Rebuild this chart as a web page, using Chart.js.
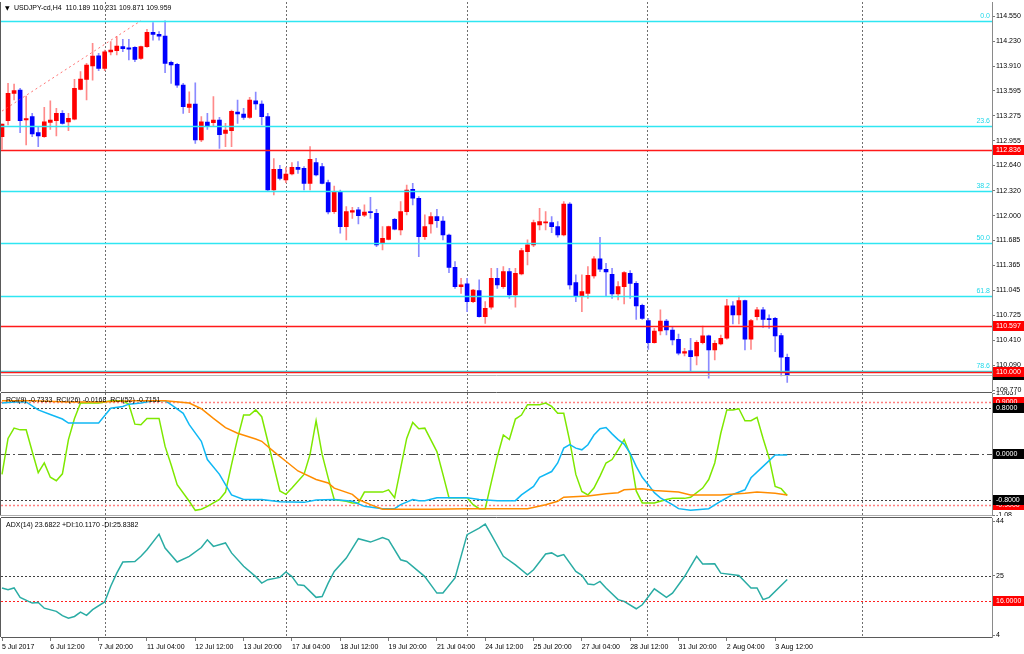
<!DOCTYPE html>
<html>
<head>
<meta charset="utf-8">
<script src="https://cdn.jsdelivr.net/npm/chart.js@4.4.1/dist/chart.umd.min.js"></script>
<style>
html, body { margin: 0; padding: 0; background: #fff; }
#wrap { position: relative; width: 1024px; height: 654px; overflow: hidden; background: #fff; }
canvas { position: absolute; left: 0; }
</style>
</head>
<body>
<div id="wrap">
  <canvas id="main" width="1024" height="392" style="top:0px"></canvas>
  <canvas id="rci" width="1024" height="124" style="top:392px"></canvas>
  <canvas id="adx" width="1024" height="138" style="top:516px"></canvas>
</div>
<script>
// USDJPY H4 candles, 5 Jul 2017 -> 3 Aug 2017 (one entry per bar)
var candleOpen = [113.009,113.213,113.562,113.605,113.222,113.264,113.060,113.009,113.192,113.213,
  113.307,113.196,113.234,113.613,113.741,113.911,114.043,113.881,114.090,114.107,
  114.158,114.145,114.150,114.009,114.158,114.341,114.316,114.294,113.958,113.932,
  113.668,113.383,113.426,112.966,113.196,113.188,113.222,113.051,113.085,113.324,
  113.298,113.256,113.468,113.426,113.264,112.328,112.592,112.455,112.532,112.617,
  112.604,112.413,112.677,112.626,112.421,112.051,112.307,111.860,112.043,112.073,
  112.005,112.047,112.030,111.647,111.698,111.954,111.817,112.051,112.337,112.222,
  111.732,111.894,111.988,111.932,111.753,111.340,111.094,111.128,110.902,111.043,
  110.710,110.830,111.200,111.094,111.285,110.987,111.255,111.541,111.626,111.881,
  111.907,111.911,111.860,111.753,112.149,111.145,110.974,111.008,111.230,111.447,
  111.315,111.251,111.000,111.094,111.264,111.136,110.855,110.659,110.378,110.527,
  110.655,110.540,110.421,110.242,110.276,110.208,110.378,110.464,110.285,110.361,
  110.434,110.847,110.732,110.915,110.421,110.710,110.796,110.681,110.689,110.468,
  110.189];
var candleHigh = [113.170,113.690,113.681,113.626,113.528,113.307,113.136,113.383,113.468,113.371,
  113.341,113.307,113.741,113.839,113.945,114.201,114.073,114.116,114.222,114.286,
  114.252,114.252,114.158,114.167,114.379,114.465,114.350,114.490,113.975,113.945,
  113.690,113.583,113.698,113.264,113.307,113.520,113.256,113.179,113.349,113.477,
  113.371,113.511,113.579,113.468,113.307,112.728,112.643,112.613,112.677,112.690,
  112.626,112.881,112.732,112.668,112.455,112.379,112.328,112.115,112.107,112.107,
  112.137,112.234,112.081,111.860,111.868,111.966,112.179,112.392,112.413,112.243,
  112.009,112.039,112.081,111.988,111.766,111.413,111.200,111.200,111.060,111.179,
  110.902,111.328,111.328,111.349,111.328,111.328,111.583,111.690,111.945,112.094,
  112.051,111.988,111.924,112.179,112.166,111.243,111.243,111.349,111.477,111.724,
  111.392,111.328,111.157,111.285,111.298,111.157,110.872,110.689,110.561,110.796,
  110.676,110.574,110.489,110.306,110.434,110.404,110.591,110.476,110.404,110.476,
  110.932,110.902,110.974,110.923,110.676,110.830,110.830,110.732,110.702,110.498,
  110.231];
var candleLow = [112.850,113.158,113.477,113.060,112.902,113.009,112.881,113.000,113.102,113.017,
  113.170,113.085,113.222,113.605,113.477,113.732,113.852,113.852,114.052,114.052,
  114.094,113.988,113.966,113.996,114.150,114.243,114.243,113.826,113.690,113.639,
  113.307,113.315,112.924,112.945,113.102,113.136,112.860,112.881,112.881,113.179,
  113.230,113.243,113.358,113.158,112.306,112.264,112.455,112.421,112.519,112.541,
  112.328,112.328,112.507,112.404,112.021,112.030,111.775,111.690,111.966,111.894,
  111.988,111.966,111.604,111.562,111.690,111.817,111.753,112.009,112.137,111.477,
  111.698,111.775,111.851,111.690,111.272,111.072,111.008,110.774,110.889,110.702,
  110.625,110.804,111.072,111.072,110.944,110.830,111.243,111.370,111.604,111.817,
  111.817,111.783,111.724,111.741,111.060,110.902,110.774,110.944,111.200,111.285,
  110.979,110.944,110.923,110.872,110.944,110.676,110.676,110.293,110.370,110.476,
  110.476,110.349,110.221,110.208,110.021,110.093,110.361,109.923,110.157,110.349,
  110.421,110.617,110.617,110.285,110.293,110.668,110.574,110.561,110.263,109.953,
  109.871];
var candleClose = [113.170,113.562,113.596,113.213,113.239,113.043,113.017,113.200,113.222,113.307,
  113.179,113.243,113.626,113.745,113.924,114.039,113.881,114.094,114.116,114.167,
  114.133,114.128,113.996,114.158,114.341,114.316,114.294,113.945,113.924,113.668,
  113.392,113.426,112.966,113.200,113.145,113.222,113.034,113.094,113.332,113.298,
  113.256,113.477,113.426,113.264,112.328,112.592,112.477,112.532,112.617,112.592,
  112.413,112.719,112.519,112.413,112.047,112.307,111.860,112.051,112.064,112.000,
  112.047,112.039,111.626,111.711,111.860,111.826,112.051,112.328,112.222,111.732,
  111.860,111.988,111.937,111.753,111.340,111.094,111.115,110.902,111.051,110.710,
  110.817,111.200,111.115,111.285,110.987,111.264,111.553,111.626,111.911,111.924,
  111.915,111.860,111.753,112.149,111.115,110.974,111.030,111.238,111.447,111.315,
  111.281,111.000,111.094,111.272,111.136,110.847,110.689,110.378,110.527,110.655,
  110.540,110.412,110.242,110.264,110.200,110.383,110.464,110.285,110.370,110.434,
  110.847,110.732,110.915,110.421,110.659,110.796,110.676,110.672,110.463,110.191,
  109.959];

// time axis: one label every 8 bars
var tickIdx = [0, 8, 16, 24, 32, 40, 48, 56, 64, 72, 80, 88, 96, 104, 112, 120, 128];
var tickLabels = ['5 Jul 2017', '6 Jul 12:00', '7 Jul 20:00', '11 Jul 04:00', '12 Jul 12:00',
  '13 Jul 20:00', '17 Jul 04:00', '18 Jul 12:00', '19 Jul 20:00', '21 Jul 04:00', '24 Jul 12:00',
  '25 Jul 20:00', '27 Jul 04:00', '28 Jul 12:00', '31 Jul 20:00', '2 Aug 04:00', '3 Aug 12:00'];
var gridIdx = [17, 47, 77, 106.75, 142.4];

var priceTicks = [114.550, 114.230, 113.910, 113.595, 113.275, 112.955, 112.640, 112.320,
  112.000, 111.685, 111.365, 111.045, 110.725, 110.410, 110.090, 109.770];

// objects on the price chart
var fibNames = ['0.0', '23.6', '38.2', '50.0', '61.8', '78.6'];
var fibPrices = [114.490, 113.147, 112.316, 111.645, 110.974, 110.018];
var levelPrices = [112.836, 110.597, 110.000];
var bidPrice = 109.959;
var trendIdx = [0, 23];
var trendPrices = [113.336, 114.490];

// RCI(9), RCI(26), RCI(52)
var rci9Idx = [0,1,2,3,4,5,6,7,8,9,10,11,12,13,14,16,17,18,20,21,22,23,24,26,27,28,29,31,32,33,34,36,37,38,39,40,41,42,43,44,
  46,47,48,50,51,52,53,54,55,57,58,59,60,63,64,65,66,67,68,69,70,72,73,74,77,78,79,80,81,82,83,84,85,86,87,89,90,91,92,93,
  94,95,96,97,98,99,100,101,102,103,104,105,106,108,110,111,113,114,116,117,118,119,120,121,122,123,124,125,126,127,128,129,130];
var rci9Val = [-0.36,0.27,0.45,0.42,0.42,0.04,-0.33,-0.16,-0.41,-0.47,-0.35,0.25,0.62,0.89,0.89,0.89,0.91,0.93,0.93,0.87,0.52,0.51,0.62,0.62,0.13,-0.19,-0.54,-0.83,-0.99,-0.97,-0.92,-0.80,-0.67,-0.19,0.27,0.68,0.68,0.77,0.65,0.22,
  -0.65,-0.71,-0.60,-0.36,-0.01,0.58,-0.01,-0.42,-0.80,-0.83,-0.86,-0.86,-0.67,-0.67,-0.63,-0.77,-0.25,0.27,0.55,0.44,0.45,0.04,-0.36,-0.77,-0.77,-0.89,-0.96,-0.96,-0.50,-0.05,0.33,0.25,0.61,0.68,0.86,0.86,0.89,0.83,0.71,0.71,
  0.22,-0.36,-0.66,-0.72,-0.60,-0.39,-0.16,-0.10,0.07,0.25,-0.01,-0.65,-0.86,-0.86,-0.80,-0.78,-0.78,-0.76,-0.60,-0.45,-0.16,0.36,0.77,0.77,0.79,0.58,0.58,0.64,0.27,-0.07,-0.57,-0.61,-0.73];
var rci26Idx = [0,2,4,6,8,10,11,16,18,20,21,23,25,27,28,30,31,33,34,36,37,38,40,43,46,50,52,55,58,60,63,65,66,68,69,70,72,77,79,82,
  85,86,88,89,91,92,93,94,95,96,97,98,99,100,101,102,103,104,105,106,107,108,109,111,112,114,117,119,121,123,124,126,128,130];
var rci26Val = [0.89,0.91,0.91,0.77,0.69,0.61,0.54,0.54,0.80,0.83,0.87,0.89,0.93,0.93,0.86,0.71,0.51,0.22,-0.10,-0.36,-0.54,-0.72,-0.80,-0.80,-0.84,-0.85,-0.81,-0.80,-0.83,-0.92,-0.96,-0.96,-0.89,-0.80,-0.82,-0.82,-0.77,-0.77,-0.80,-0.82,
  -0.82,-0.72,-0.57,-0.41,-0.31,-0.16,0.10,0.16,0.10,0.07,0.16,0.33,0.44,0.46,0.35,0.25,0.17,0.01,-0.22,-0.41,-0.54,-0.68,-0.77,-0.89,-0.96,-0.99,-0.96,-0.83,-0.71,-0.63,-0.42,-0.22,-0.02,-0.02];
var rci52Idx = [0,5,11,16,22,27,31,33,35,37,39,42,43,45,47,49,52,54,55,58,59,61,63,71,77,87,90,92,93,97,100,102,103,106,108,112,114,119,123,125,128,130];
var rci52Val = [0.93,0.93,0.91,0.91,0.93,0.93,0.89,0.79,0.62,0.46,0.36,0.26,0.22,0.04,-0.13,-0.30,-0.45,-0.51,-0.60,-0.71,-0.80,-0.89,-0.97,-0.97,-0.96,-0.96,-0.89,-0.83,-0.76,-0.74,-0.70,-0.68,-0.63,-0.61,-0.64,-0.67,-0.72,-0.72,-0.69,-0.67,-0.69,-0.72];

// ADX(14)
var adxIdx = [0,1,2,3,5,6,7,9,10,11,12,13,14,15,17,18,19,20,22,23,24,26,27,29,31,33,34,35,37,38,40,42,43,44,46,47,48,49,50,51,
  52,53,54,55,57,59,61,63,64,66,67,70,72,73,75,77,79,80,81,83,85,87,88,90,91,92,93,95,96,97,98,99,100,102,103,105,106,108,110,111,
  113,115,116,118,119,122,124,125,126,127,130];
var adxVal = [20.7,20.1,20.7,17.4,15.4,15.6,13.6,12.5,11.0,10.1,10.7,12.2,11.1,13.1,15.8,21.3,25.9,29.8,30.0,31.8,34.1,39.6,34.7,29.8,31.8,34.9,37.6,35.3,36.5,33.0,28.3,24.7,22.4,23.6,24.4,26.3,24.7,21.8,21.6,19.5,
  17.4,17.7,22.4,26.5,31.2,38.0,36.8,38.4,37.6,30.6,30.0,24.7,18.9,18.9,24.2,39.4,41.7,43.1,39.4,31.8,28.8,25.3,27.1,32.6,33.0,31.8,32.4,26.5,25.1,22.1,21.8,23.0,20.7,16.6,16.0,13.4,14.8,20.4,17.4,18.9,
  24.7,31.8,29.1,29.2,25.9,25.1,20.7,20.7,16.6,17.4,23.7];

Chart.defaults.font.family = "'Liberation Sans', Arial, sans-serif";
Chart.defaults.font.size = 7;
Chart.defaults.color = '#000';

var X_MIN = -0.1656, X_MAX = 163.9;
var FONT = "7px 'Liberation Sans', Arial, sans-serif";

function pts(xs, ys) {
  return xs.map(function (x, k) { return { x: x, y: ys[k] }; });
}

function hline(ctx, a, y, color, width, dash) {
  y = Math.round(y) + 0.5;
  ctx.save();
  ctx.strokeStyle = color; ctx.lineWidth = width; ctx.setLineDash(dash || []);
  ctx.beginPath(); ctx.moveTo(a.left, y); ctx.lineTo(a.right, y); ctx.stroke();
  ctx.restore();
}

// grid, level lines, label boxes, panel captions
var deco = {
  id: 'deco',
  beforeDatasetsDraw: function (chart, args, o) {
    var ctx = chart.ctx, a = chart.chartArea, sx = chart.scales.x, sy = chart.scales.y;
    ctx.save();
    ctx.strokeStyle = '#6e6e6e'; ctx.lineWidth = 1; ctx.setLineDash([2, 2]);
    gridIdx.forEach(function (v) {
      var x = Math.round(sx.getPixelForValue(v)) + 0.5;
      ctx.beginPath(); ctx.moveTo(x, a.top); ctx.lineTo(x, a.bottom); ctx.stroke();
    });
    ctx.restore();
    if (!o.linesOnTop) (o.lines || []).forEach(function (l) { hline(ctx, a, sy.getPixelForValue(l.v), l.c, l.w, l.d); });
  },
  afterDatasetsDraw: function (chart, args, o) {
    var ctx = chart.ctx, a = chart.chartArea, sy = chart.scales.y;
    if (o.linesOnTop) (o.lines || []).forEach(function (l) { hline(ctx, a, sy.getPixelForValue(l.v), l.c, l.w, l.d); });
    ctx.save();
    ctx.font = FONT; ctx.textAlign = 'right'; ctx.textBaseline = 'bottom';
    (o.tags || []).forEach(function (t) {
      ctx.fillStyle = t.c;
      ctx.fillText(t.t, a.right - 2, Math.round(sy.getPixelForValue(t.v)) - 1);
    });
    ctx.restore();
  },
  afterDraw: function (chart, args, o) {
    var ctx = chart.ctx, a = chart.chartArea, sy = chart.scales.y;
    ctx.save();
    // panel frame
    ctx.strokeStyle = '#5a5a5a'; ctx.lineWidth = 1;
    ctx.beginPath();
    ctx.moveTo(a.left - 0.5, a.top); ctx.lineTo(a.left - 0.5, a.bottom);
    if (o.frameTop) { ctx.moveTo(a.left, a.top - 0.5); ctx.lineTo(a.right, a.top - 0.5); }
    if (o.frameBottom) { ctx.moveTo(a.left, a.bottom + 0.5); ctx.lineTo(a.right, a.bottom + 0.5); }
    ctx.stroke();
    // right-hand boxes
    ctx.font = FONT; ctx.textBaseline = 'middle'; ctx.textAlign = 'left';
    (o.boxes || []).forEach(function (b) {
      var y = Math.round(sy.getPixelForValue(b.v));
      ctx.fillStyle = b.bg;
      ctx.fillRect(a.right + 1, y - 5, 1024 - a.right - 1, 10);
      ctx.fillStyle = '#fff';
      ctx.fillText(b.t, a.right + 4, y);
    });
    // caption
    if (o.caption) {
      ctx.fillStyle = '#000';
      ctx.textBaseline = 'middle';
      if (o.arrow) { ctx.font = "6px 'DejaVu Sans', sans-serif"; ctx.fillText('\u25BC', 5, o.capY); }
      ctx.font = FONT;
      ctx.fillText(o.caption, o.capX, o.capY);
    }
    ctx.restore();
  }
};

function xAxis(show) {
  var s = {
    type: 'linear', min: X_MIN, max: X_MAX, offset: false, display: show,
    grid: { display: false }
  };
  if (show) {
    s.afterBuildTicks = function (sc) { sc.ticks = tickIdx.map(function (v) { return { value: v }; }); };
    s.ticks = { autoSkip: false, maxRotation: 0, minRotation: 0, align: 'start', padding: 2, color: '#000',
      callback: function (v, k) { return tickLabels[k]; } };
    s.grid = { display: true, drawOnChartArea: false, drawTicks: true, tickLength: 4, color: '#7a7a7a' };
    s.border = { display: true, color: '#5a5a5a' };
    s.afterFit = function (sc) { sc.height = 17; sc.paddingLeft = 0; sc.paddingRight = 0; };
  }
  return s;
}

function yAxis(min, max, ticks, fmt) {
  return {
    position: 'right', min: min, max: max, beginAtZero: false,
    afterBuildTicks: function (sc) { sc.ticks = ticks.map(function (v) { return { value: v }; }); },
    ticks: { padding: 1, color: '#000', autoSkip: false, callback: fmt },
    grid: { drawOnChartArea: false, drawTicks: true, tickLength: 3, color: '#7a7a7a' },
    border: { display: true, color: '#8a8a8a', width: 1 },
    afterFit: function (sc) { sc.width = 32; sc.paddingTop = 0; sc.paddingBottom = 0; }
  };
}

var common = {
  responsive: false, animation: false, devicePixelRatio: 1, events: [],
  plugins: { legend: { display: false }, tooltip: { enabled: false } }
};

// ---- price panel ----
var bull = candleClose.map(function (c, i) { return c >= candleOpen[i]; });
var mainLines = [];
fibPrices.forEach(function (p) { mainLines.push({ v: p, c: '#2fe6f2', w: 1.6 }); });
mainLines.push({ v: bidPrice, c: '#b8b8b8', w: 1 });
levelPrices.forEach(function (p) { mainLines.push({ v: p, c: '#ff1a1a', w: 1.6 }); });

new Chart(document.getElementById('main'), {
  type: 'bar',
  data: {
    datasets: [
      {
        type: 'line', order: 0, data: pts(trendIdx, trendPrices),
        borderColor: 'rgba(255,70,70,0.75)', borderWidth: 1, borderDash: [2, 3], pointRadius: 0, tension: 0
      },
      {
        order: 1, grouped: false, barThickness: 4, minBarLength: 1, borderWidth: 0,
        data: candleOpen.map(function (o, i) { return { x: i, y: [o, candleClose[i]] }; }),
        backgroundColor: bull.map(function (b) { return b ? '#ff0000' : '#0000ff'; })
      },
      {
        order: 2, grouped: false, barThickness: 1, borderWidth: 0,
        data: candleLow.map(function (l, i) { return { x: i, y: [l, candleHigh[i]] }; }),
        backgroundColor: bull.map(function (b) { return b ? '#ff8a8a' : '#8a8aff'; })
      }
    ]
  },
  options: Object.assign({}, common, {
    layout: { padding: { left: 1, right: 0, top: 2, bottom: 0.5 } },
    scales: {
      x: xAxis(false),
      y: yAxis(109.754, 114.729, priceTicks, function (v) { return v.toFixed(3); })
    },
    plugins: Object.assign({}, common.plugins, {
      deco: {
        linesOnTop: true, lines: mainLines,
        tags: fibPrices.map(function (p, k) { return { v: p, t: fibNames[k], c: '#1fd8ea' }; }),
        boxes: [
          { v: bidPrice, t: bidPrice.toFixed(3), bg: '#000' },
          { v: levelPrices[0], t: levelPrices[0].toFixed(3), bg: '#ff0000' },
          { v: levelPrices[1], t: levelPrices[1].toFixed(3), bg: '#ff0000' },
          { v: levelPrices[2], t: levelPrices[2].toFixed(3), bg: '#ff0000' }
        ],
        arrow: true, caption: 'USDJPY-cd,H4  110.189 110.231 109.871 109.959', capX: 14, capY: 8
      }
    })
  }),
  plugins: [deco]
});

// ---- RCI panel ----
function curve(xs, ys, color) {
  return { type: 'line', data: pts(xs, ys), borderColor: color, borderWidth: 1.5, pointRadius: 0, tension: 0 };
}
new Chart(document.getElementById('rci'), {
  type: 'line',
  data: {
    datasets: [
      curve(rci52Idx, rci52Val, '#ff8c00'),
      curve(rci26Idx, rci26Val, '#10b8f4'),
      curve(rci9Idx, rci9Val, '#7ee800')
    ]
  },
  options: Object.assign({}, common, {
    layout: { padding: { left: 1, right: 0, top: 1, bottom: 0.5 } },
    scales: {
      x: xAxis(false),
      y: yAxis(-1.08, 1.0657, [1.0657, -1.08], function (v) { return v === 1.0657 ? '1.0657' : '-1.08'; })
    },
    plugins: Object.assign({}, common.plugins, {
      deco: {
        frameTop: true, frameBottom: true,
        lines: [
          { v: 0.9, c: '#ff8080', w: 1.5, d: [2, 2] },
          { v: 0.8, c: '#404040', w: 1, d: [2, 2] },
          { v: 0, c: '#505050', w: 1, d: [9, 3, 2, 3] },
          { v: -0.8, c: '#404040', w: 1, d: [2, 2] },
          { v: -0.9, c: '#ff8080', w: 1.5, d: [2, 2] }
        ],
        boxes: [
          { v: 0.9, t: '0.9000', bg: '#ff0000' },
          { v: 0.8, t: '0.8000', bg: '#000' },
          { v: 0, t: '0.0000', bg: '#000' },
          { v: -0.9, t: '-0.9000', bg: '#ff0000' },
          { v: -0.8, t: '-0.8000', bg: '#000' }
        ],
        caption: 'RCI(9) -0.7333  RCI(26) -0.0168  RCI(52) -0.7151', capX: 6, capY: 8
      }
    })
  }),
  plugins: [deco]
});

// ---- ADX panel ----
new Chart(document.getElementById('adx'), {
  type: 'line',
  data: { datasets: [curve(adxIdx, adxVal, '#2aaca4')] },
  options: Object.assign({}, common, {
    layout: { padding: { left: 1, right: 0, top: 2, bottom: 0 } },
    scales: {
      x: xAxis(true),
      y: yAxis(3.49, 45.25, [44, 25, 4], function (v) { return String(v); })
    },
    plugins: Object.assign({}, common.plugins, {
      deco: {
        frameTop: true,
        lines: [
          { v: 25, c: '#404040', w: 1, d: [2, 2] },
          { v: 16, c: '#ff2020', w: 1, d: [2, 2] }
        ],
        boxes: [{ v: 16, t: '16.0000', bg: '#ff0000' }],
        caption: 'ADX(14) 23.6822 +DI:10.1170 -DI:25.8382', capX: 6, capY: 9
      }
    })
  }),
  plugins: [deco]
});
</script>
</body>
</html>
